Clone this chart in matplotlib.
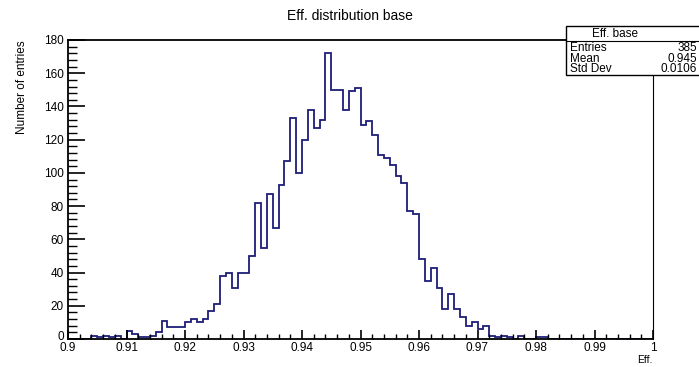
#!/usr/bin/env python
# coding: utf-8
"""
ROOT-style efficiency histogram ("Eff. distribution base") redrawn with matplotlib.
"""

import matplotlib
matplotlib.use("Agg")
import matplotlib.pyplot as plt
import matplotlib.ticker as mticker
import matplotlib.transforms as mtransforms
from matplotlib.patches import Rectangle
import numpy as np

# Histogram: 100 bins of 0.001 between 0.9 and 1.0
xmin, xmax, nbins = 0.9, 1.0, 100
counts = [
    0, 0, 0, 0, 2, 1, 2, 1, 2, 0,
    5, 3, 1, 1, 2, 4, 11, 7, 7, 7,
    10, 12, 10, 12, 17, 21, 38, 40, 31, 40,
    40, 50, 82, 55, 87, 67, 93, 107, 133, 100,
    120, 138, 127, 132, 172, 150, 150, 138, 149, 151,
    129, 131, 123, 111, 109, 105, 98, 94, 77, 75,
    48, 35, 43, 31, 18, 27, 18, 13, 8, 10,
    6, 8, 2, 1, 2, 1, 0, 2, 0, 0,
    1, 1, 0, 0, 0, 0, 0, 0, 0, 0,
    0, 0, 0, 0, 0, 0, 0, 0, 0, 0,
]
xticks = [0.9, 0.91, 0.92, 0.93, 0.94, 0.95, 0.96, 0.97, 0.98, 0.99, 1.0]
xticklabels = ["0.9", "0.91", "0.92", "0.93", "0.94", "0.95", "0.96", "0.97", "0.98", "0.99", "1"]
yticks = [0, 20, 40, 60, 80, 100, 120, 140, 160, 180]

stats_title = "Eff. base"
stats_rows = [("Entries", "385"), ("Mean", "0.945"), ("Std Dev", "0.0106")]

W, H = 699, 367
plt.rcParams["font.family"] = ["Liberation Sans", "DejaVu Sans"]

fig = plt.figure(figsize=(W / 100, H / 100), dpi=100)
fig.patch.set_facecolor("white")

# frame in pixels: left 68, right 653, top 40, bottom 339
ax = fig.add_axes([68 / W, (H - 339) / H, (653 - 68) / W, (339 - 40) / H])
edges = np.linspace(xmin, xmax, nbins + 1)
ax.stairs(counts, edges, color="#1e1e78", linewidth=1.3, baseline=None)

ax.set_xlim(xmin, xmax)
ax.set_ylim(0, 180)
ax.set_xticks(xticks, xticklabels)
ax.set_yticks(yticks)
ax.xaxis.set_minor_locator(mticker.MultipleLocator(0.002))
ax.yaxis.set_minor_locator(mticker.MultipleLocator(4))
ax.tick_params(axis="x", which="major", direction="in", length=6.5, width=1.2, labelsize=8.5, pad=2)
ax.tick_params(axis="x", which="minor", direction="in", length=3.3, width=1.0)
ax.tick_params(axis="y", which="major", direction="in", length=12.5, width=1.2, labelsize=8.5, pad=3)
ax.tick_params(axis="y", which="minor", direction="in", length=6.3, width=1.0)
for side in ["left", "bottom", "top"]:
    ax.spines[side].set_linewidth(1.3)
ax.spines["right"].set_linewidth(0.8)

# the "0" of the y axis sits just above the "0.9" of the x axis
fig.canvas.draw()
zero_lbl = ax.get_yticklabels()[0]
zero_lbl.set_transform(zero_lbl.get_transform()
                       + mtransforms.ScaledTranslation(0, 4 / 100, fig.dpi_scale_trans))

# titles, ROOT style placement
fig.text(350 / W, 1 - 16 / H, "Eff. distribution base", ha="center", va="center", fontsize=10)
fig.text(22 / W, 1 - 40 / H, "Number of entries", rotation=90, ha="center", va="top", fontsize=8.5)
fig.text(653 / W, 1 - 360 / H, "Eff.", ha="right", va="center", fontsize=7.5)

# statistics box (clipped by the right edge, as in the original)
bx0, bx1, by0, by1, bsep = 566, 705, 26, 75, 41
fig.patches.append(Rectangle((bx0 / W, 1 - by1 / H), (bx1 - bx0) / W, (by1 - by0) / H,
                             transform=fig.transFigure, facecolor="white",
                             edgecolor="black", linewidth=1.0, zorder=5))
fig.lines.append(plt.Line2D([bx0 / W, 1], [1 - bsep / H, 1 - bsep / H],
                            transform=fig.transFigure, color="black", linewidth=0.8, zorder=6))
fig.text(615 / W, 1 - 34 / H, stats_title, ha="center", va="center", fontsize=8.5, zorder=7)
for i, (name, val) in enumerate(stats_rows):
    yy = 1 - (48 + 10.5 * i) / H
    fig.text(570 / W, yy, name, ha="left", va="center", fontsize=8.5, zorder=7)
    fig.text(697 / W, yy, val, ha="right", va="center", fontsize=8.5, zorder=7)

fig.savefig("out.png", dpi=100)
